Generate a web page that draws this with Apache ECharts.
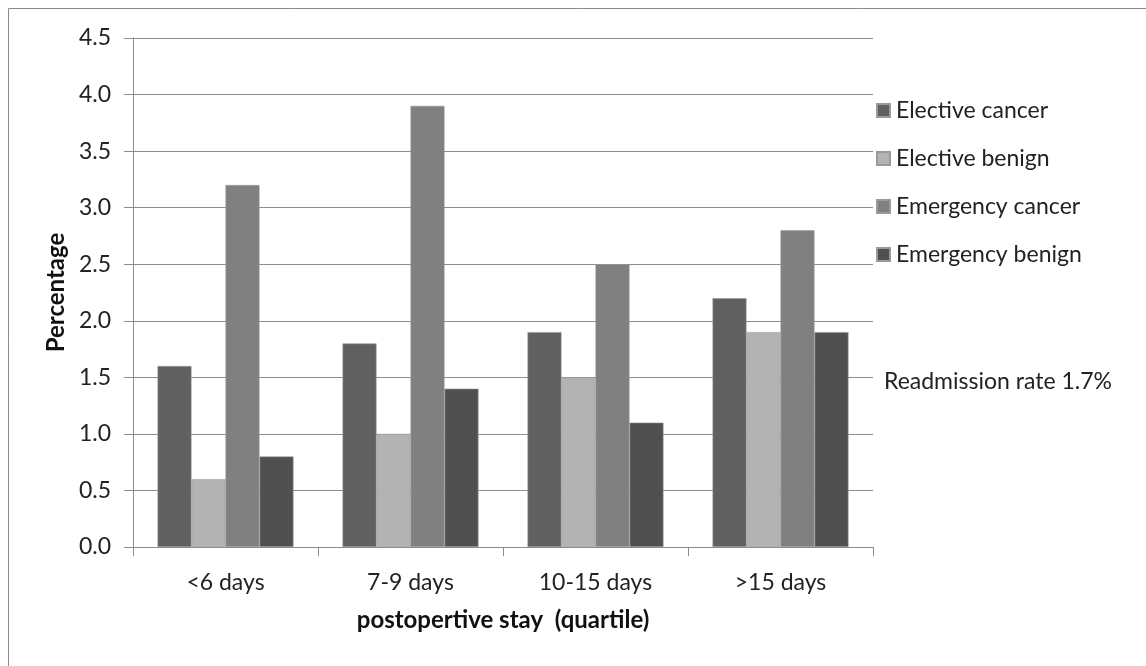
<!DOCTYPE html>
<html>
<head>
<meta charset="utf-8">
<script src="https://cdn.jsdelivr.net/npm/echarts@6/dist/echarts.min.js"></script>
<style>html,body{margin:0;padding:0;background:#fff;}#c{width:1146px;height:666px;}</style>
</head>
<body>
<div id="c"></div>
<script>
const categories = ['<6 days', '7-9 days', '10-15 days', '>15 days'];
const electiveCancer = [1.6, 1.8, 1.9, 2.2];
const electiveBenign = [0.6, 1.0, 1.5, 1.9];
const emergencyCancer = [3.2, 3.9, 2.5, 2.8];
const emergencyBenign = [0.8, 1.4, 1.1, 1.9];
const seriesNames = ['Elective cancer', 'Elective benign', 'Emergency cancer', 'Emergency benign'];
const seriesColors = ['#606060', '#b3b3b3', '#808080', '#505050'];
const noteText = 'Readmission rate 1.7%';

const FONT = 'Lato, "Open Sans", sans-serif';
const chart = echarts.init(document.getElementById('c'));
const dataSets = [electiveCancer, electiveBenign, emergencyCancer, emergencyBenign];

chart.setOption({
  animation: false,
  backgroundColor: '#fff',
  textStyle: { fontFamily: FONT },
  grid: { left: 133, right: 273, top: 38, bottom: 119 },
  legend: {
    orient: 'vertical',
    left: 876,
    top: 99,
    padding: 0,
    itemWidth: 13,
    itemHeight: 13,
    itemGap: 25,
    icon: 'rect',
    data: seriesNames,
    textStyle: { fontSize: 23, color: '#222', fontFamily: FONT, padding: [0, 0, 0, 1] }
  },
  xAxis: {
    type: 'category',
    data: categories,
    name: 'postopertive stay  (quartile)',
    nameLocation: 'middle',
    nameGap: 61,
    nameTextStyle: { fontSize: 24, fontWeight: 'bold', color: '#111', fontFamily: FONT },
    axisLine: { lineStyle: { color: '#8c8c8c', width: 1 } },
    axisTick: { show: true, alignWithLabel: false, length: 9, lineStyle: { color: '#8c8c8c' } },
    axisLabel: { fontSize: 23, color: '#222', margin: 24, fontFamily: FONT }
  },
  yAxis: {
    type: 'value',
    min: 0,
    max: 4.5,
    interval: 0.5,
    name: 'Percentage',
    nameLocation: 'middle',
    nameRotate: 90,
    nameGap: 59,
    nameTextStyle: { fontSize: 24, fontWeight: 'bold', color: '#111', fontFamily: FONT },
    axisLine: { show: true, lineStyle: { color: '#8c8c8c', width: 1 } },
    axisTick: { show: true, length: 9, lineStyle: { color: '#8c8c8c' } },
    axisLabel: { fontSize: 23, color: '#222', margin: 22, fontFamily: FONT, formatter: v => v.toFixed(1) },
    splitLine: { show: true, lineStyle: { color: '#8c8c8c', width: 1 } }
  },
  series: seriesNames.map((n, i) => ({
    name: n,
    type: 'bar',
    data: dataSets[i],
    barGap: '0%',
    barCategoryGap: '26.5%',
    itemStyle: { color: seriesColors[i], borderColor: '#9a9a9a', borderWidth: 0.6 }
  })),
  graphic: [
    { type: 'line', shape: { x1: 8.5, y1: 8.5, x2: 1146, y2: 8.5 }, style: { stroke: '#8a8a8a', lineWidth: 1 } },
    { type: 'line', shape: { x1: 8.5, y1: 8.5, x2: 8.5, y2: 666 }, style: { stroke: '#8a8a8a', lineWidth: 1 } },
    { type: 'text', left: 884, top: 370, style: { text: noteText, fontSize: 23, fill: '#222', fontFamily: FONT } }
  ]
});
</script>
</body>
</html>
